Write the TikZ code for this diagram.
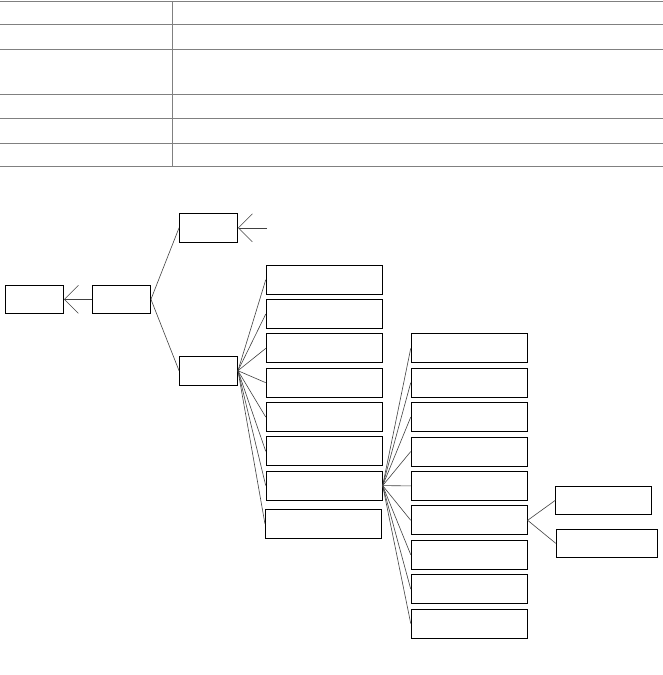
\documentclass[tikz,border=0pt]{standalone}
\usetikzlibrary{arrows.meta}
\begin{document}
\begin{tikzpicture}[x=1pt, y=-1pt,
  caixa/.style={draw, line width=0.9pt, minimum width=58pt, minimum height=28pt, inner sep=0pt},
  larga/.style={caixa, minimum width=116pt, minimum height=29pt},
  liga/.style={black!75, line width=0.6pt},
  seta/.style={liga, -{Straight Barb[length=14pt, width=28pt]}}]
  \useasboundingbox (0,0) rectangle (663,675);
  % tabela
  \foreach \y in {1,24.3,49.3,94.3,118.3,143.3,166.7}
    \draw[black!50, line width=0.8pt] (0,\y) -- (663,\y);
  \draw[black!50, line width=0.8pt] (172.5,1) -- (172.5,166.7);
  % raiz
  \node[caixa] (fim) at (34.5,299.3) {};
  \node[caixa] (raiz) at (121.5,299.3) {};
  \draw[seta] (raiz.west) -- (fim.east);
  % dois ramos
  \node[caixa, minimum height=29pt] (alto) at (208.5,227.8) {};
  \node[caixa, minimum height=29pt] (baixo) at (208.5,370.7) {};
  \coordinate (entrada) at (267,227.8);
  \draw[seta] (entrada) -- (alto.east);
  \draw[liga] (raiz.east) -- (alto.west);
  \draw[liga] (raiz.east) -- (baixo.west);
  % segunda coluna
  \foreach \i in {1,...,7}
    \node[larga] (m\i) at (324.2,245.5+34.3*\i) {};
  \node[larga] (m8) at (323.4,523.8) {};
  \foreach \i in {1,...,8}
    \draw[liga] (baixo.east) -- (m\i.west);
  % terceira coluna
  \foreach \i in {1,...,9}
    \node[larga] (n\i) at (469.2,313.9+34.4*\i) {};
  \foreach \i in {1,...,9}
    \draw[liga] (m7.east) -- (n\i.west);
  % quarta coluna
  \node[caixa] (p1) [minimum width=96pt] at (603.8,500.3) {};
  \node[caixa] (p2) [minimum width=101pt] at (606.7,543.3) {};
  \draw[liga] (n6.east) -- (p1.west);
  \draw[liga] (n6.east) -- (p2.west);
\end{tikzpicture}
\end{document}
